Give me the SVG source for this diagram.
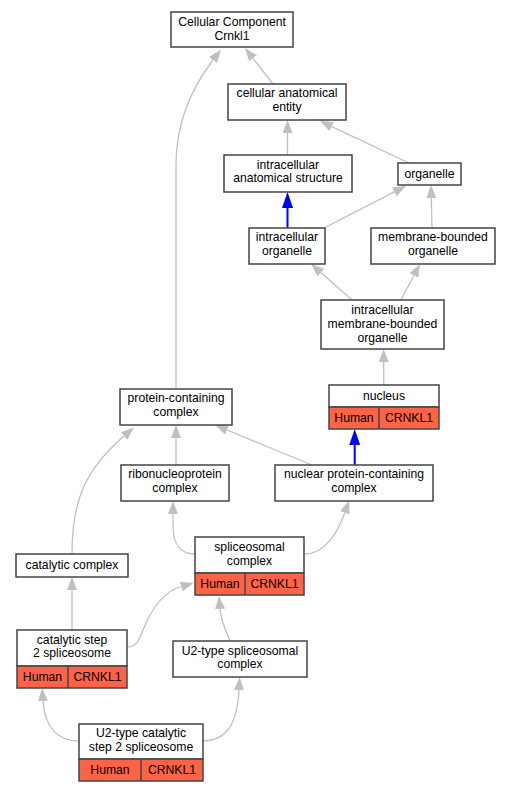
<svg xmlns="http://www.w3.org/2000/svg" width="509" height="792" viewBox="0 0 509 792">
<style>
.n rect{fill:#fff;stroke:#444;stroke-width:1.5}
.n rect.r{fill:#ff6347}
.n line{stroke:#444;stroke-width:1.5}
text{font-family:"Liberation Sans",Arial,sans-serif;font-size:12.2px;fill:#000;text-anchor:middle}
.e path{fill:none;stroke:#c0c0c0;stroke-width:1.3;marker-end:url(#ag)}
.e path.b{stroke:#0000ff;stroke-width:2;marker-end:url(#ab)}
</style>
<defs>
<marker id="ag" viewBox="0 0 13 10" refX="0" refY="5" markerWidth="13" markerHeight="10" markerUnits="userSpaceOnUse" orient="auto"><path d="M0,0 L13,5 L0,10 z" fill="#c0c0c0"/></marker>
<marker id="ab" viewBox="0 0 16 11" refX="0" refY="5.5" markerWidth="16" markerHeight="11" markerUnits="userSpaceOnUse" orient="auto"><path d="M0,0 L16,5.5 L0,11 z" fill="#0000ff"/></marker>
</defs>
<rect width="509" height="792" fill="#fff"/>
<g id="edges" class="e">
<path d="M273,84 L253,58.3"/>
<path d="M176,389 L176,165 C176,125 190,90 213,60"/>
<path d="M287.5,155 L287.5,133"/>
<path d="M409,163 L331.8,126.6"/>
<path class="b" d="M287.5,228 L287.5,208"/>
<path d="M324,228 L394.4,191.9"/>
<path d="M432,228 L431.3,198"/>
<path d="M352,300 L320.8,272.6"/>
<path d="M401,300 L413.9,275.5"/>
<path d="M383.7,385 L383.7,362"/>
<path d="M176,465 L176,438"/>
<path d="M312,465 L227,430"/>
<path class="b" d="M354.7,465 L354.7,445"/>
<path d="M72,554 C72,500 85,470 124,436"/>
<path d="M195,554 C180,554 173,545 173,525 L173,514"/>
<path d="M305,554 C325,554 338,532 344.8,512.7"/>
<path d="M72,630 L72,590"/>
<path d="M127,647 C137,647 139,640 143,630 C151,610 162,592 181.2,586.5"/>
<path d="M230,641 C226,630 221,622 220,609"/>
<path d="M79,741 C60,741 45,730 43,701"/>
<path d="M203,741 C222,741 237,730 239,690"/>
</g>
<g id="n_cc" class="n"><rect x="171" y="12" width="122" height="35"/><text x="232" y="26.45">Cellular Component</text><text x="232" y="40.15">Crnkl1</text></g>
<g id="n_cae" class="n"><rect x="228" y="84" width="118" height="36"/><text x="287" y="97.25">cellular anatomical</text><text x="287" y="110.95">entity</text></g>
<g id="n_ias" class="n"><rect x="224" y="155" width="128" height="37"/><text x="288" y="168.75">intracellular</text><text x="288" y="182.45">anatomical structure</text></g>
<g id="n_org" class="n"><rect x="398" y="163" width="63" height="22"/><text x="429.5" y="177.7">organelle</text></g>
<g id="n_io" class="n"><rect x="249" y="228" width="76" height="36"/><text x="287" y="241.25">intracellular</text><text x="287" y="254.95">organelle</text></g>
<g id="n_mbo" class="n"><rect x="371" y="228" width="124" height="36"/><text x="433" y="241.25">membrane-bounded</text><text x="433" y="254.95">organelle</text></g>
<g id="n_imbo" class="n"><rect x="321" y="300" width="123" height="49"/><text x="382.5" y="314.1">intracellular</text><text x="382.5" y="327.8">membrane-bounded</text><text x="382.5" y="341.5">organelle</text></g>
<g id="n_nuc" class="n"><rect x="329" y="385" width="110" height="22"/><rect class="r" x="329" y="407" width="110" height="22"/><line x1="379" y1="407" x2="379" y2="429"/><text x="384" y="399.8">nucleus</text><text x="354" y="421.8">Human</text><text x="409" y="421.8">CRNKL1</text></g>
<g id="n_pcc" class="n"><rect x="120" y="389" width="112" height="36"/><text x="176" y="402.25">protein-containing</text><text x="176" y="415.95">complex</text></g>
<g id="n_rnp" class="n"><rect x="121" y="465" width="108" height="36"/><text x="175" y="478.25">ribonucleoprotein</text><text x="175" y="491.95">complex</text></g>
<g id="n_npc" class="n"><rect x="275" y="465" width="158" height="36"/><text x="354" y="478.25">nuclear protein-containing</text><text x="354" y="491.95">complex</text></g>
<g id="n_sc" class="n"><rect x="195" y="537" width="109" height="36"/><rect class="r" x="195" y="573" width="109" height="22"/><line x1="245" y1="573" x2="245" y2="595"/><text x="249.5" y="551.25">spliceosomal</text><text x="249.5" y="564.95">complex</text><text x="220" y="587.8">Human</text><text x="274.5" y="587.8">CRNKL1</text></g>
<g id="n_cat" class="n"><rect x="16" y="554" width="112" height="23"/><text x="72" y="569.2">catalytic complex</text></g>
<g id="n_cs2" class="n"><rect x="17" y="630" width="110" height="36"/><rect class="r" x="17" y="666" width="110" height="22"/><line x1="68" y1="666" x2="68" y2="688"/><text x="72" y="643.75">catalytic step</text><text x="72" y="657.45">2 spliceosome</text><text x="42.5" y="680.8">Human</text><text x="97.5" y="680.8">CRNKL1</text></g>
<g id="n_u2sc" class="n"><rect x="173" y="641" width="134" height="36"/><text x="240" y="654.75">U2-type spliceosomal</text><text x="240" y="668.45">complex</text></g>
<g id="n_u2cs2" class="n"><rect x="79" y="724" width="124" height="35"/><rect class="r" x="79" y="759" width="124" height="22"/><line x1="141" y1="759" x2="141" y2="781"/><text x="141" y="737.25">U2-type catalytic</text><text x="141" y="750.95">step 2 spliceosome</text><text x="110" y="773.8">Human</text><text x="172" y="773.8">CRNKL1</text></g>
</svg>
